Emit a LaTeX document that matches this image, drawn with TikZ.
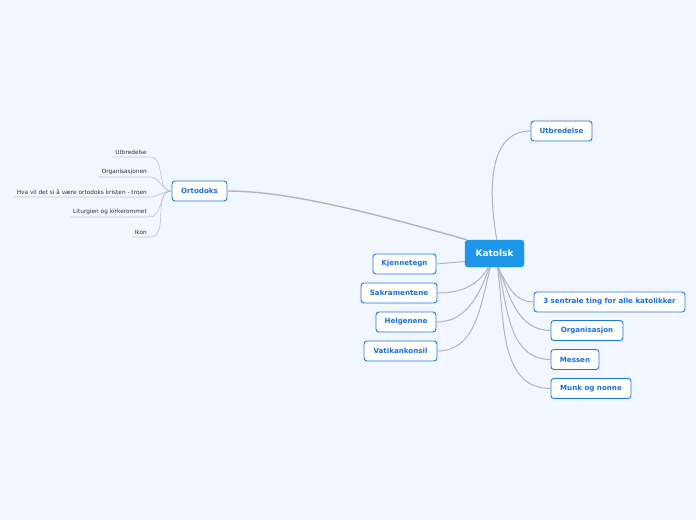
\documentclass[tikz,border=0pt]{standalone}
\usepackage{fontspec}
\setmainfont{DejaVu Sans}
\definecolor{bg}{HTML}{F2F6FE}
\definecolor{mblue}{HTML}{1F78E0}
\definecolor{tblue}{HTML}{1A6FD6}
\definecolor{cfill}{HTML}{1E96E8}
\definecolor{lgrey}{HTML}{B4B4B8}
\definecolor{dtext}{HTML}{333333}
\tikzset{
  topic/.style={draw=mblue, fill=white, line width=0.9pt, rounded corners=3pt,
    text=tblue, font=\fontsize{7.1}{8}\selectfont\bfseries, minimum height=20pt, inner xsep=0pt, anchor=center},
  central/.style={fill=cfill, draw=cfill, rounded corners=3pt, text=white,
    font=\fontsize{9}{10}\selectfont\bfseries, minimum width=59pt, minimum height=27pt},
  sub/.style={text=dtext, font=\fontsize{5.8}{6.5}\selectfont, inner xsep=3pt, inner ysep=2pt, anchor=south east},
  conn/.style={draw=lgrey, line width=1pt},
  thick conn/.style={draw=lgrey, line width=1.4pt},
  subconn/.style={draw=lgrey!80, line width=0.6pt}
}
\begin{document}
\begin{tikzpicture}[x=1pt,y=-1pt]
\fill[bg] (0,0) rectangle (696,520);
\useasboundingbox (0,0) rectangle (696,520);

\node[central] (kat) at (494.5,253.5) {Katolsk};
\node[topic, minimum width=55pt] (ort) at (199.5,191) {Ortodoks};
\node[topic, minimum width=61pt] (utb) at (561.5,131) {Utbredelse};
\node[topic, minimum width=63pt] (kje) at (404.5,264) {Kjennetegn};
\node[topic, minimum width=76pt] (sak) at (399,293) {Sakramentene};
\node[topic, minimum width=60pt] (hel) at (406,322) {Helgenene};
\node[topic, minimum width=73pt] (vat) at (400.5,351) {Vatikankonsil};
\node[topic, minimum width=151pt] (sen) at (609.5,302) {3 sentrale ting for alle katolikker};
\node[topic, minimum width=72pt] (org) at (587,330.5) {Organisasjon};
\node[topic, minimum width=48pt] (mes) at (575,359.5) {Messen};
\node[topic, minimum width=80pt] (mun) at (591,388.5) {Munk og nonne};

% Ortodoks subtopics
\node[sub] (o1) at (150,157) {Utbredelse};
\node[sub] (o2) at (150,177) {Organisasjonen};
\node[sub] (o3) at (150,197) {Hva vil det si å være ortodoks kristen - troen};
\node[sub] (o4) at (150,217) {Liturgien og kirkerommet};
\node[sub] (o5) at (150,237) {Ikon};
\foreach \n in {o1,o2,o3,o4,o5}{
  \draw[subconn] (\n.south west) -- (\n.south east) to[out=0,in=180] (ort.west);
}

% Katolsk connectors
\draw[thick conn] ([xshift=2pt]kat.north west) .. controls (380,215) and (290,191) .. (ort.east);
\draw[conn] ([xshift=32pt]kat.north west) to[out=100,in=180] (utb.west);
\draw[conn] ([yshift=-8pt]kat.west) -- (kje.east);
\draw[conn] ([xshift=-6pt]kat.south) to[out=-120,in=0] (sak.east);
\draw[conn] ([xshift=-5pt]kat.south) to[out=-110,in=0] (hel.east);
\draw[conn] ([xshift=-4pt]kat.south) to[out=-105,in=0] (vat.east);
\draw[conn] ([xshift=3pt]kat.south) to[out=-60,in=180] (sen.west);
\draw[conn] ([xshift=4pt]kat.south) to[out=-70,in=180] (org.west);
\draw[conn] ([xshift=4pt]kat.south) to[out=-78,in=180] (mes.west);
\draw[conn] ([xshift=3pt]kat.south) to[out=-82,in=180] (mun.west);
\end{tikzpicture}
\end{document}
